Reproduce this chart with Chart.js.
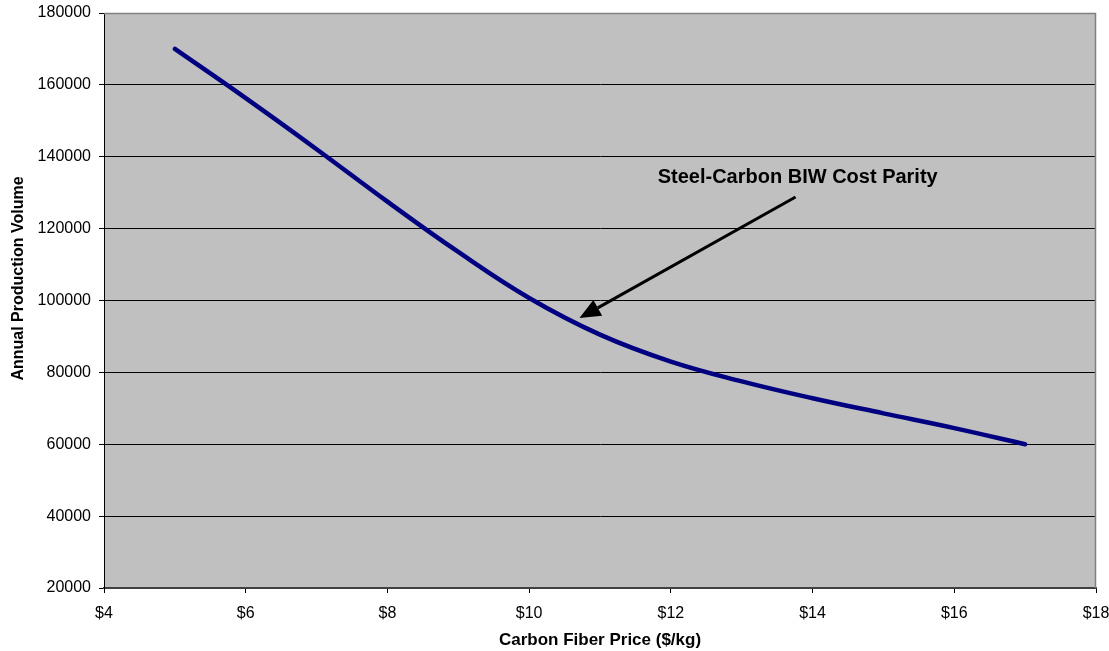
<!DOCTYPE html>
<html>
<head>
<meta charset="utf-8">
<script src="https://cdn.jsdelivr.net/npm/chart.js@4/dist/chart.umd.min.js"></script>
<style>
  html, body { margin: 0; padding: 0; background: #fff; }
  #wrap { width: 1109px; height: 651px; position: relative; }
</style>
</head>
<body>
<div id="wrap"><canvas id="parityChart"></canvas></div>
<script>
// Chart data
const prices = [5, 6, 7, 8, 9, 10, 11, 12, 13, 14, 15, 16, 17];
const volumes = [170000, 156300, 142100, 127500, 113500, 100700, 90500, 83000, 77500, 72800, 68600, 64500, 60000];
const yTicks = [20000, 40000, 60000, 80000, 100000, 120000, 140000, 160000, 180000];
const xTicks = [4, 6, 8, 10, 12, 14, 16, 18];

const yTitle = 'Annual Production Volume';
const xTitle = 'Carbon Fiber Price ($/kg)';

// Annotation (data coordinates)
const noteText = 'Steel-Carbon BIW Cost Parity';
const noteAt = { x: 13.79, y: 134300 };
const arrowFrom = { x: 13.76, y: 128800 };
const arrowTo = { x: 10.71, y: 95100 };

const fontFamily = 'Arial, "Liberation Sans", sans-serif';

// Gray plot area + gray top/right border
const plotBackground = {
    id: 'plotBackground',
    beforeDraw(chart) {
        const { ctx, chartArea: a } = chart;
        ctx.save();
        ctx.fillStyle = '#c0c0c0';
        ctx.fillRect(a.left, a.top, a.right - a.left, a.bottom - a.top);
        ctx.restore();
    },
    afterDatasetsDraw(chart) {
        const { ctx, chartArea: a } = chart;
        ctx.save();
        ctx.strokeStyle = '#808080';
        ctx.lineWidth = 1.5;
        ctx.beginPath();
        ctx.moveTo(a.left, a.top + 0.5);
        ctx.lineTo(a.right - 0.5, a.top + 0.5);
        ctx.lineTo(a.right - 0.5, a.bottom);
        ctx.stroke();
        ctx.restore();
    }
};

// y title sits a bit above the plot's middle, like the original
const sideTitle = {
    id: 'sideTitle',
    afterDraw(chart) {
        const { ctx, chartArea: a } = chart;
        ctx.save();
        ctx.translate(19, (a.top + a.bottom) / 2 - 22);
        ctx.rotate(-Math.PI / 2);
        ctx.font = 'bold 16px ' + fontFamily;
        ctx.fillStyle = '#000';
        ctx.textAlign = 'center';
        ctx.textBaseline = 'middle';
        ctx.fillText(yTitle, 0, 0);
        ctx.restore();
    }
};

// Arrow + label
const parityNote = {
    id: 'parityNote',
    afterDatasetsDraw(chart) {
        const { ctx, scales: { x, y } } = chart;
        const x1 = x.getPixelForValue(arrowFrom.x), y1 = y.getPixelForValue(arrowFrom.y);
        const x2 = x.getPixelForValue(arrowTo.x), y2 = y.getPixelForValue(arrowTo.y);
        const ang = Math.atan2(y2 - y1, x2 - x1);
        const headLen = 21, headW = 9;
        const bx = x2 - headLen * Math.cos(ang), by = y2 - headLen * Math.sin(ang);

        ctx.save();
        ctx.strokeStyle = '#000';
        ctx.fillStyle = '#000';
        ctx.lineWidth = 3;
        ctx.beginPath();
        ctx.moveTo(x1, y1);
        ctx.lineTo(bx, by);
        ctx.stroke();

        ctx.beginPath();
        ctx.moveTo(x2, y2);
        ctx.lineTo(bx + headW * Math.sin(ang), by - headW * Math.cos(ang));
        ctx.lineTo(bx - headW * Math.sin(ang), by + headW * Math.cos(ang));
        ctx.closePath();
        ctx.fill();

        ctx.font = 'bold 20px ' + fontFamily;
        ctx.textAlign = 'center';
        ctx.textBaseline = 'middle';
        ctx.fillText(noteText, x.getPixelForValue(noteAt.x), y.getPixelForValue(noteAt.y));
        ctx.restore();
    }
};

const ctx = document.getElementById('parityChart').getContext('2d');
const parityChart = new Chart(ctx, {
    type: 'line',
    data: {
        datasets: [{
            label: 'Cost parity',
            data: prices.map((p, i) => ({ x: p, y: volumes[i] })),
            borderColor: '#000080',
            borderWidth: 4.5,
            borderCapStyle: 'round',
            pointRadius: 0,
            tension: 0.4,
            fill: false
        }]
    },
    options: {
        responsive: true,
        maintainAspectRatio: false,
        animation: false,
        layout: {
            padding: { top: 13, right: 13, bottom: 0, left: 0 }
        },
        plugins: {
            legend: { display: false },
            tooltip: { enabled: false }
        },
        scales: {
            x: {
                type: 'linear',
                min: 4,
                max: 18,
                afterBuildTicks: axis => { axis.ticks = xTicks.map(v => ({ value: v })); },
                afterFit: axis => {
                    axis.height = 63;
                    axis.paddingLeft = 0;
                    axis.paddingRight = 0;
                },
                grid: {
                    drawOnChartArea: false,
                    color: '#000',
                    tickLength: 5
                },
                border: { color: '#404040', width: 2 },
                ticks: {
                    color: '#000',
                    padding: 11,
                    maxRotation: 0,
                    font: { family: fontFamily, size: 16 },
                    callback: v => '$' + v
                },
                title: {
                    display: true,
                    text: xTitle,
                    color: '#000',
                    padding: { top: 2, bottom: 0 },
                    font: { family: fontFamily, size: 17, weight: 'bold' }
                }
            },
            y: {
                min: 20000,
                max: 180000,
                afterBuildTicks: axis => { axis.ticks = yTicks.map(v => ({ value: v })); },
                afterFit: axis => {
                    axis.width = 104;
                    axis.paddingTop = 0;
                    axis.paddingBottom = 0;
                },
                grid: {
                    color: '#000',
                    lineWidth: 1,
                    tickLength: 5
                },
                border: { color: '#000', width: 1 },
                ticks: {
                    color: '#000',
                    padding: 8,
                    font: { family: fontFamily, size: 16 },
                    callback: v => String(v)
                }
            }
        }
    },
    plugins: [plotBackground, parityNote, sideTitle]
});
</script>
</body>
</html>
